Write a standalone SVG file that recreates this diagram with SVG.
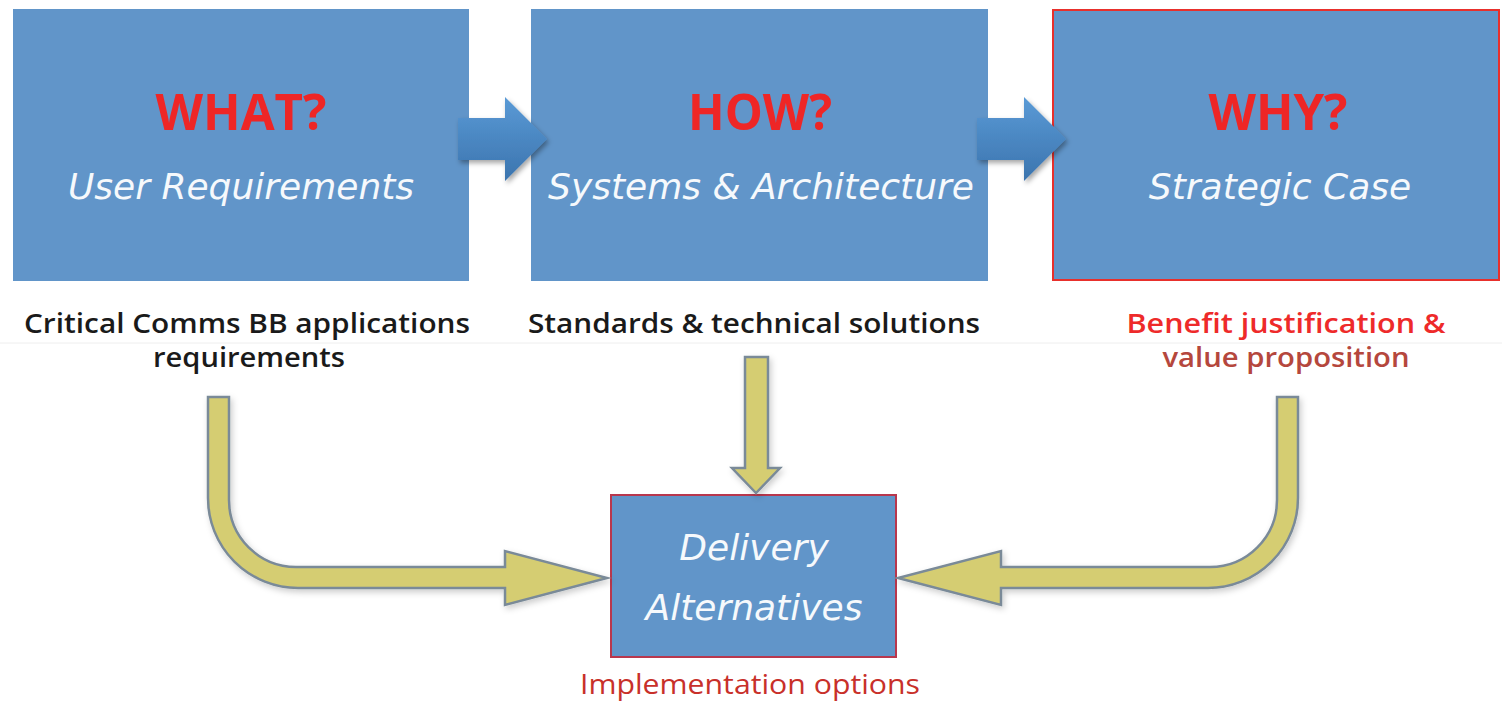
<svg xmlns="http://www.w3.org/2000/svg" width="1502" height="701" viewBox="0 0 1502 701">
<style>
.box{fill:#6195c9;}
.title{font-family:"Open Sans","DejaVu Sans",sans-serif;font-size:50px;font-weight:700;fill:#ee2626;text-anchor:middle;}
.sub{font-family:"DejaVu Sans",Verdana,sans-serif;font-size:36px;font-style:italic;fill:#f6f9fc;text-anchor:middle;}
.lbl{font-family:"Open Sans","DejaVu Sans",sans-serif;font-size:27px;font-weight:600;fill:#1a1a1a;text-anchor:middle;}
.yarrow{fill:#d5cd72;stroke:#7a8a98;stroke-width:2.5;stroke-linejoin:miter;filter:url(#sh);}
.barrow{fill:url(#bg);filter:url(#sh2);}
</style>
<defs>
<linearGradient id="bg" x1="0" y1="0" x2="0" y2="1">
<stop offset="0" stop-color="#5a9ad6"/>
<stop offset="1" stop-color="#3b74ae"/>
</linearGradient>
<filter id="sh" x="-10%" y="-10%" width="130%" height="130%">
<feDropShadow dx="2" dy="3" stdDeviation="3" flood-color="#000" flood-opacity="0.2"/>
</filter>
<filter id="sh2" x="-20%" y="-20%" width="150%" height="150%">
<feDropShadow dx="2" dy="3" stdDeviation="2.5" flood-color="#000" flood-opacity="0.35"/>
</filter>
</defs>
<rect width="1502" height="701" fill="#ffffff"/>
<line x1="0" y1="343" x2="1502" y2="343" stroke="#eeeeee" stroke-width="1"/>

<g id="what">
<rect class="box" x="13" y="9" width="456" height="272"/>
<text class="title" x="241" y="130" textLength="171" lengthAdjust="spacingAndGlyphs">WHAT?</text>
<text class="sub" x="241" y="199">User Requirements</text>
<text class="lbl" x="247" y="333" textLength="446" lengthAdjust="spacingAndGlyphs">Critical Comms BB applications</text>
<text class="lbl" x="249" y="367" textLength="192" lengthAdjust="spacingAndGlyphs">requirements</text>
</g>

<g id="how">
<rect class="box" x="531" y="9" width="457" height="272"/>
<text class="title" x="760" y="130" textLength="144" lengthAdjust="spacingAndGlyphs">HOW?</text>
<text class="sub" x="761" y="199">Systems &amp; Architecture</text>
<text class="lbl" x="754" y="333" textLength="452" lengthAdjust="spacingAndGlyphs">Standards &amp; technical solutions</text>
</g>

<g id="why">
<rect class="box" x="1053" y="10" width="446" height="270" stroke="#e8302c" stroke-width="2"/>
<text class="title" x="1278" y="130" textLength="139" lengthAdjust="spacingAndGlyphs">WHY?</text>
<text class="sub" x="1280" y="199">Strategic Case</text>
<text class="lbl" x="1286" y="333" style="fill:#ee2a2a" textLength="319" lengthAdjust="spacingAndGlyphs">Benefit justification &amp;</text>
<text class="lbl" x="1286" y="367" style="fill:#b5473d" textLength="247" lengthAdjust="spacingAndGlyphs">value proposition</text>
</g>

<g id="delivery">
<rect class="box" x="611" y="495" width="285" height="162" stroke="#b8374d" stroke-width="2"/>
<text class="sub" x="754" y="560">Delivery</text>
<text class="sub" x="754" y="620">Alternatives</text>
<text class="lbl" x="750" y="694" style="fill:#c8302a;font-weight:normal" textLength="340" lengthAdjust="spacingAndGlyphs">Implementation options</text>
</g>

<g id="connectors">
<path class="barrow" d="M458,118 H505 V97 L547,139 L505,181 V160 H458 Z"/>
<path class="barrow" d="M977,118 H1024 V97 L1066,139 L1024,181 V160 H977 Z"/>
<path class="yarrow" d="M208,397 H229 V500 A67,67 0 0 0 296,567 H505 V551 L607,578 L505,605 V588 H298 A90,90 0 0 1 208,498 Z"/>
<path class="yarrow" d="M1298,397 H1277 V500 A67,67 0 0 1 1210,567 H1001 V551 L898,578 L1001,605 V588 H1208 A90,90 0 0 0 1298,498 Z"/>
<path class="yarrow" d="M745,357 H768 V468 H780 L756,493 L732,468 H745 Z"/>
</g>
</svg>
